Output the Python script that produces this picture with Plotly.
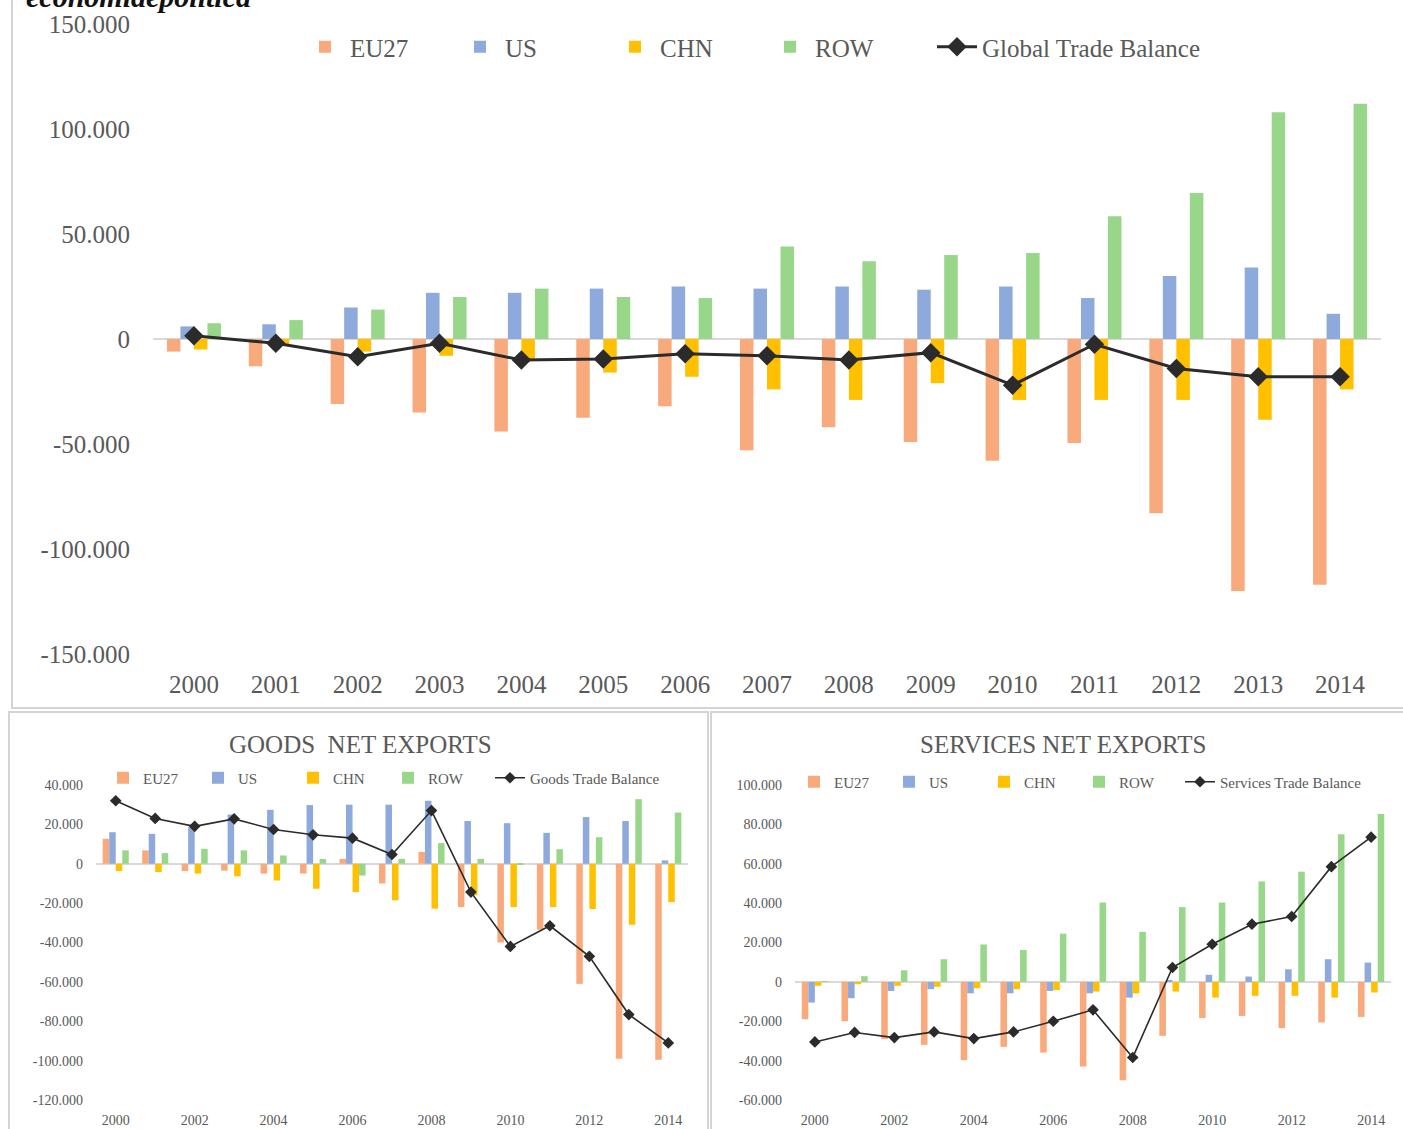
import plotly.graph_objects as go

W, H = 1403, 1129

years = ["2000", "2001", "2002", "2003", "2004", "2005", "2006", "2007",
         "2008", "2009", "2010", "2011", "2012", "2013", "2014"]

# ---- Total (goods + services) net exports, billions
tot_eu27 = [-6, -13, -31, -35, -44, -37.5, -32, -53, -42, -49, -58, -49.5, -83, -120, -117]
tot_us = [6, 7, 15, 22, 22, 24, 25, 24, 25, 23.5, 25, 19.5, 30, 34, 12]
tot_chn = [-5, -3, -6, -8, -10, -16, -18, -24, -29, -21, -29, -29, -29, -38.5, -24]
tot_row = [7.5, 9, 14, 20, 24, 20, 19.5, 44, 37, 40, 41, 58.5, 69.5, 108, 112]
tot_bal = [1.5, -2, -8.5, -2, -10, -9.5, -7, -8, -10, -6.5, -22, -2.5, -14, -18, -18]

# ---- Goods net exports
g_eu27 = [12.7, 6.8, -3.7, -3.5, -5, -5, 2.5, -10, 6, -22, -40, -33.5, -61, -99, -99.5]
g_us = [16, 15.2, 18.6, 25, 27.4, 29.8, 30, 30, 32, 21.7, 20.6, 15.7, 23.7, 21.7, 1.7]
g_chn = [-3.7, -4.2, -5, -6.4, -8.5, -12.7, -14.4, -18.6, -22.8, -16, -22, -22, -23, -31, -19.5]
g_row = [6.8, 5.4, 7.6, 6.8, 4.2, 2.4, -6, 2.5, 10.5, 2.5, -0.5, 7.4, 13.5, 32.8, 26]
g_bal = [32, 23, 19, 22.8, 17.4, 14.7, 13, 4.7, 27, -14.4, -42, -31.5, -47, -76.6, -91]

# ---- Services net exports
s_eu27 = [-19, -20, -29, -32, -39.8, -33, -35.9, -43, -50, -27.4, -18.4, -17.3, -23.5, -20.6, -17.8]
s_us = [-10.5, -8.3, -4.6, -3.7, -5.8, -5.8, -4.6, -5.8, -8, 0.5, 3.6, 2.7, 6.4, 11.5, 9.8]
s_chn = [-2, -1.2, -2, -2.5, -3.2, -3.7, -4.2, -4.9, -5.9, -4.9, -8, -7.1, -7.1, -8, -5.4]
s_row = [0.3, 2.9, 5.9, 11.5, 19, 16.2, 24.5, 40.3, 25.4, 38, 40.3, 51, 56, 75, 85.3]
s_bal = [-30.5, -25.7, -28.3, -25.4, -28.8, -25.4, -20, -14.2, -38.4, 7.3, 19.1, 29.3, 33.2, 58.5, 73.5]

series_names = ["EU27", "US", "CHN", "ROW"]
colors = {"EU27": "#F9AA7C", "US": "#8EA9DB", "CHN": "#FFC000", "ROW": "#98D68A"}
LINE_C = "#2b2b2b"
TXT_C = "#595959"
SERIF = "Liberation Serif, Times New Roman, serif"

top_ticks = [-150, -100, -50, 0, 50, 100, 150]
top_ticktext = ["-150.000", "-100.000", "-50.000", "0", "50.000", "100.000", "150.000"]
goods_ticks = [-120, -100, -80, -60, -40, -20, 0, 20, 40]
goods_ticktext = ["-120.000", "-100.000", "-80.000", "-60.000", "-40.000", "-20.000", "0", "20.000", "40.000"]
serv_ticks = [-60, -40, -20, 0, 20, 40, 60, 80, 100]
serv_ticktext = ["-60.000", "-40.000", "-20.000", "0", "20.000", "40.000", "60.000", "80.000", "100.000"]
bottom_xticks = ["2000", "2002", "2004", "2006", "2008", "2010", "2012", "2014"]


def px(x):
    return x / W


def py(y):
    return 1 - y / H


fig = go.Figure()

panels = [
    ("x", "y", "legend", "legend4", [tot_eu27, tot_us, tot_chn, tot_row], tot_bal,
     "Global Trade Balance", 3, 15),
    ("x2", "y2", "legend2", "legend5", [g_eu27, g_us, g_chn, g_row], g_bal,
     "Goods Trade Balance", 1.6, 9),
    ("x3", "y3", "legend3", "legend6", [s_eu27, s_us, s_chn, s_row], s_bal,
     "Services Trade Balance", 1.6, 9),
]

for xa, ya, lg_bar, lg_line, bars, bal, balname, lw, ms in panels:
    for name, vals in zip(series_names, bars):
        fig.add_trace(go.Bar(
            x=years, y=vals, name=name, xaxis=xa, yaxis=ya, legend=lg_bar,
            marker=dict(color=colors[name], line=dict(width=0)),
        ))
    fig.add_trace(go.Scatter(
        x=years, y=bal, name=balname, xaxis=xa, yaxis=ya, legend=lg_line,
        mode="lines+markers",
        line=dict(color=LINE_C, width=lw),
        marker=dict(symbol="diamond", size=ms, color=LINE_C),
    ))

cat_range = [-0.5, len(years) - 0.5]
common_y = dict(showgrid=False, showline=False, zeroline=True, zerolinecolor="#d9d9d9",
                zerolinewidth=1.5, ticks="", fixedrange=True, automargin=False)
common_x = dict(showgrid=False, showline=False, zeroline=False, ticks="", type="category",
                automargin=False, fixedrange=True, range=cat_range)


def leg(x, y, size, itemwidth, entrywidth=None):
    d = dict(orientation="h", x=px(x), xanchor="left", y=py(y), yanchor="middle",
             font=dict(size=size, color=TXT_C, family=SERIF), bgcolor="rgba(0,0,0,0)",
             traceorder="normal", itemwidth=itemwidth)
    if entrywidth:
        d.update(entrywidth=entrywidth, entrywidthmode="pixels")
    return d


fig.update_layout(
    width=W, height=H,
    margin=dict(l=0, r=0, t=0, b=0, autoexpand=False),
    paper_bgcolor="white", plot_bgcolor="white",
    barmode="group", bargap=0.34, bargroupgap=0.0,
    font=dict(family=SERIF, color=TXT_C),
    xaxis=dict(common_x, domain=[px(153), px(1381)], anchor="y",
               tickfont=dict(size=25, color=TXT_C), ticklabelstandoff=13),
    yaxis=dict(common_y, domain=[py(654), py(24)], anchor="x", range=[-150, 150],
               tickvals=top_ticks, ticktext=top_ticktext,
               tickfont=dict(size=25, color=TXT_C), ticklabelstandoff=22),
    xaxis2=dict(common_x, domain=[px(96), px(688)], anchor="y2",
                tickvals=bottom_xticks, ticktext=bottom_xticks,
                tickfont=dict(size=14, color=TXT_C), ticklabelstandoff=10),
    yaxis2=dict(common_y, domain=[py(1100), py(785)], anchor="x2", range=[-120, 40],
                tickvals=goods_ticks, ticktext=goods_ticktext,
                tickfont=dict(size=14, color=TXT_C), ticklabelstandoff=12),
    xaxis3=dict(common_x, domain=[px(795), px(1391)], anchor="y3",
                tickvals=bottom_xticks, ticktext=bottom_xticks,
                tickfont=dict(size=14, color=TXT_C), ticklabelstandoff=10),
    yaxis3=dict(common_y, domain=[py(1100), py(785)], anchor="x3", range=[-60, 100],
                tickvals=serv_ticks, ticktext=serv_ticktext,
                tickfont=dict(size=14, color=TXT_C), ticklabelstandoff=12),
    legend=leg(300, 47, 25, 40, 100),
    legend4=leg(932, 47, 25, 40),
    legend2=leg(103, 778, 15, 30, 50),
    legend5=leg(490, 778, 15, 30),
    legend3=leg(794, 782, 15, 30, 50),
    legend6=leg(1180, 782, 15, 30),
    showlegend=True,
)

# panel frames
frame = dict(type="rect", xref="paper", yref="paper", line=dict(color="#d4d4d4", width=2),
             fillcolor="rgba(0,0,0,0)", layer="below")
fig.add_shape(frame, x0=px(12), x1=px(1410), y0=py(708), y1=py(-20))
fig.add_shape(frame, x0=px(9), x1=px(708), y0=py(1140), y1=py(712))
fig.add_shape(frame, x0=px(711), x1=px(1410), y0=py(1140), y1=py(712))

# titles
fig.add_annotation(text="GOODS  NET EXPORTS", xref="paper", yref="paper", x=px(360), y=py(744),
                   xanchor="center", yanchor="middle", showarrow=False,
                   font=dict(size=25, color=TXT_C, family=SERIF))
fig.add_annotation(text="SERVICES NET EXPORTS", xref="paper", yref="paper", x=px(1063), y=py(744),
                   xanchor="center", yanchor="middle", showarrow=False,
                   font=dict(size=25, color=TXT_C, family=SERIF))

# cropped source watermark at the very top (the reference shows it cut by the edge)
fig.add_annotation(text="<b><i>economiaepolitica</i></b>", xref="paper", yref="paper",
                   x=px(24), y=py(15), xanchor="left", yanchor="bottom", showarrow=False,
                   font=dict(size=30, color="#111111", family=SERIF))

fig.write_html("out.html", config={"displayModeBar": False},
               post_script="document.body.style.margin='0';document.body.style.padding='0';")
